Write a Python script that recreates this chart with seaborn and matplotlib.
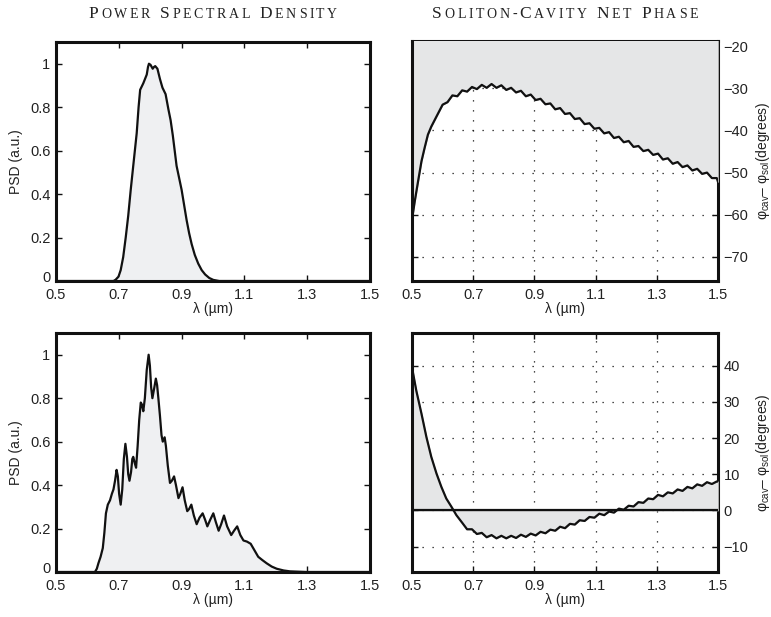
import numpy as np
import matplotlib
matplotlib.use("Agg")
import matplotlib.pyplot as plt
import matplotlib.transforms as mtransforms
import seaborn as sns
from matplotlib.offsetbox import TextArea, HPacker, AnchoredOffsetbox

# ---------------- data ----------------
titles = ["Power Spectral Density", "Soliton-Cavity Net Phase"]
x_label = "λ (µm)"
psd_label = "PSD (a.u.)"
phase_label = r"φ$_{\rm cav}$– φ$_{\rm sol}$(degrees)"
x_ticks = [0.5, 0.7, 0.9, 1.1, 1.3, 1.5]
x_tick_labels = ["0.5", "0.7", "0.9", "1.1", "1.3", "1.5"]
psd_ticks = [0, 0.2, 0.4, 0.6, 0.8, 1.0]
psd_tick_labels = ["0", "0.2", "0.4", "0.6", "0.8", "1"]
phase1_ticks = [-70, -60, -50, -40, -30, -20]
phase1_tick_labels = ["−70", "−60", "−50", "−40", "−30", "−20"]
phase2_ticks = [-10, 0, 10, 20, 30, 40]
phase2_tick_labels = ["−10", "0", "10", "20", "30", "40"]

# top-left: input spectrum
psd1_x = [0.5, 0.683, 0.690, 0.699, 0.706, 0.714, 0.722, 0.730, 0.738, 0.746, 0.757,
          0.763, 0.768, 0.778, 0.789, 0.793, 0.796, 0.801, 0.808, 0.812, 0.816,
          0.823, 0.831, 0.839, 0.849, 0.858, 0.865, 0.872, 0.884, 0.892,
          0.900, 0.908, 0.916, 0.924, 0.932, 0.942, 0.953, 0.964, 0.975, 0.988,
          1.001, 1.02, 1.5]
psd1_y = [0, 0, 0.006, 0.02, 0.05, 0.11, 0.20, 0.30, 0.42, 0.53, 0.68,
          0.80, 0.88, 0.91, 0.95, 0.985, 1.0, 0.995, 0.977, 0.985, 0.989,
          0.977, 0.93, 0.89, 0.86, 0.79, 0.74, 0.67, 0.53, 0.475,
          0.42, 0.35, 0.28, 0.22, 0.17, 0.12, 0.08, 0.05, 0.03, 0.014,
          0.005, 0, 0]

# bottom-left: output spectrum
psd2_x = [0.5, 0.624, 0.630, 0.635, 0.642, 0.649, 0.654, 0.659, 0.665, 0.672, 0.678,
          0.683, 0.688, 0.693, 0.697, 0.701, 0.706, 0.711, 0.716, 0.721, 0.726,
          0.730, 0.734, 0.739, 0.743, 0.746, 0.751, 0.755, 0.760, 0.765, 0.770,
          0.774, 0.778, 0.783, 0.789, 0.795, 0.799, 0.803, 0.807, 0.812, 0.818,
          0.822, 0.826, 0.831, 0.836, 0.840, 0.846, 0.850, 0.856, 0.863, 0.869,
          0.876, 0.882, 0.890, 0.896, 0.903, 0.910, 0.918, 0.924, 0.931, 0.939,
          0.948, 0.957, 0.967, 0.975, 0.982, 0.991, 1.001, 1.009, 1.018, 1.026,
          1.035, 1.045, 1.058, 1.067, 1.077, 1.087, 1.097, 1.108, 1.120, 1.132,
          1.144, 1.157, 1.171, 1.187, 1.203, 1.225, 1.245, 1.298, 1.5]
psd2_y = [0, 0, 0.015, 0.04, 0.07, 0.11, 0.18, 0.27, 0.31, 0.33, 0.36,
          0.38, 0.42, 0.47, 0.44, 0.36, 0.31, 0.38, 0.52, 0.59, 0.53,
          0.45, 0.42, 0.46, 0.52, 0.53, 0.50, 0.48, 0.58, 0.70, 0.78,
          0.77, 0.74, 0.80, 0.93, 1.0, 0.95, 0.85, 0.80, 0.84, 0.89,
          0.86, 0.80, 0.72, 0.63, 0.60, 0.62, 0.58, 0.49, 0.41, 0.42,
          0.44, 0.40, 0.34, 0.36, 0.39, 0.33, 0.28, 0.29, 0.31, 0.26,
          0.22, 0.25, 0.27, 0.24, 0.21, 0.24, 0.27, 0.23, 0.19, 0.22,
          0.26, 0.21, 0.17, 0.19, 0.21, 0.17, 0.145, 0.14, 0.13, 0.10,
          0.07, 0.055, 0.04, 0.025, 0.015, 0.007, 0.003, 0, 0]

# top-right: net phase (input)
ph1_x = [0.500, 0.509, 0.520, 0.531, 0.541, 0.552, 0.563, 0.580,
         0.600, 0.616, 0.632, 0.648, 0.664, 0.680, 0.696, 0.712, 0.728, 0.744,
         0.760, 0.776, 0.792, 0.808, 0.824, 0.840, 0.856, 0.872, 0.888, 0.904,
         0.920, 0.936, 0.952, 0.968, 0.984, 1.000, 1.016, 1.032, 1.048, 1.064,
         1.080, 1.096, 1.112, 1.128, 1.144, 1.160, 1.176, 1.192, 1.208, 1.224,
         1.240, 1.256, 1.272, 1.288, 1.304, 1.320, 1.336, 1.352, 1.368, 1.384,
         1.400, 1.416, 1.432, 1.448, 1.464, 1.480, 1.496, 1.500]
ph1_y = [-61.1, -56.8, -52.0, -47.3, -44.2, -41.0, -39.1, -36.7,
         -33.9, -33.3, -31.7, -31.9, -30.5, -30.8, -29.7, -30.2, -29.2, -29.9,
         -29.0, -29.9, -29.3, -30.4, -29.9, -31.0, -30.6, -31.9, -31.5, -32.8,
         -32.5, -33.8, -33.6, -35.0, -34.7, -36.1, -35.9, -37.3, -37.1, -38.5,
         -38.3, -39.6, -39.4, -40.7, -40.4, -41.8, -41.5, -42.8, -42.5, -43.9,
         -43.7, -44.9, -44.6, -45.8, -45.5, -46.9, -46.6, -47.9, -47.5, -48.7,
         -48.3, -49.5, -49.1, -50.3, -50.0, -51.3, -51.3, -52.2]

# bottom-right: net phase (output)
ph2_x = [0.500, 0.514, 0.531, 0.547, 0.563, 0.580, 0.596, 0.612, 0.629, 0.645,
         0.664, 0.680, 0.696, 0.712, 0.728, 0.744, 0.760, 0.776, 0.792, 0.808,
         0.824, 0.840, 0.856, 0.872, 0.888, 0.904, 0.920, 0.936, 0.952, 0.968,
         0.984, 1.000, 1.016, 1.032, 1.048, 1.064, 1.080, 1.096, 1.112, 1.128,
         1.144, 1.160, 1.176, 1.192, 1.208, 1.224, 1.240, 1.256, 1.272, 1.288,
         1.304, 1.320, 1.336, 1.352, 1.368, 1.384, 1.400, 1.416, 1.432, 1.448,
         1.464, 1.480, 1.496, 1.500]
ph2_y = [39.5, 33.1, 26.7, 20.3, 14.8, 10.2, 6.5, 3.3, 1.0, -1.3,
         -3.4, -5.2, -5.2, -6.5, -6.2, -7.4, -6.8, -7.7, -7.0, -7.7,
         -7.0, -7.6, -6.7, -7.3, -6.4, -6.9, -5.9, -6.3, -5.3, -5.6,
         -4.5, -4.9, -3.7, -3.9, -2.7, -2.9, -1.8, -2.0, -0.9, -1.3,
         -0.3, -0.6, 0.5, 0.2, 1.3, 1.1, 2.3, 2.1, 3.3, 3.1,
         4.3, 3.9, 5.0, 4.7, 5.8, 5.4, 6.5, 6.1, 7.2, 6.8,
         7.8, 7.3, 8.0, 8.0]

# ---------------- styling ----------------
sns.set_theme(style="white")
plt.rcParams["font.family"] = ["Liberation Sans", "DejaVu Sans"]
plt.rcParams["mathtext.fontset"] = "custom"
plt.rcParams["mathtext.rm"] = "Liberation Sans"
plt.rcParams["mathtext.it"] = "Liberation Sans:italic"

W, H = 771, 617
fig = plt.figure(figsize=(W / 100, H / 100), dpi=100)
fig.patch.set_facecolor("white")


def px_axes(left, top, right, bottom):
    return fig.add_axes([left / W, 1 - bottom / H, (right - left) / W, (bottom - top) / H])


ax_tl = px_axes(56, 42, 370, 281)
ax_tr = px_axes(412, 41, 718, 281)
ax_bl = px_axes(56, 333, 370, 572)
ax_br = px_axes(412, 333, 718, 572)

TICK_FS = 10.5
LABEL_FS = 10
LEFT_FILL = "#eff0f2"
RIGHT_FILL = "#e5e6e7"
LINE_KW = dict(color="#111111", linewidth=1.6, sort=False, estimator=None, zorder=3)


def frame(ax):
    ax.set_facecolor("white")
    for name, sp in ax.spines.items():
        sp.set_visible(True)
        sp.set_color("#111111")
        sp.set_linewidth(2.2)
    ax.tick_params(direction="in", length=4, width=1.0, color="#111111",
                   top=True, right=True, bottom=True, left=True,
                   labelsize=TICK_FS, labelcolor="#222222", pad=4)
    ax.tick_params(axis="x", pad=5)
    ax.set_xlim(0.5, 1.5)
    ax.set_xticks(x_ticks)
    ax.set_xticklabels(x_tick_labels)
    ax.set_xlabel(x_label, fontsize=LABEL_FS, labelpad=0, color="#222222")


def style_line(ax):
    for ln in ax.get_lines():
        ln.set_solid_joinstyle("round")
        ln.set_solid_capstyle("round")


def psd_panel(ax, xs, ys):
    frame(ax)
    ax.fill_between(xs, ys, 0, color=LEFT_FILL, linewidth=0, zorder=1)
    sns.lineplot(x=xs, y=ys, ax=ax, **LINE_KW)
    style_line(ax)
    ax.set_ylim(0, 1.1)
    ax.set_yticks(psd_ticks)
    ax.set_yticklabels(psd_tick_labels)
    ax.set_ylabel(psd_label, fontsize=LABEL_FS, labelpad=5, color="#222222")
    # lift the "0" label a little so it sits just above the "0.5" x label
    lab0 = ax.get_yticklabels()[0]
    lab0.set_transform(lab0.get_transform() +
                       mtransforms.ScaledTranslation(0, 3 / 72, fig.dpi_scale_trans))


def phase_panel(ax, xs, ys, ylim, ticks, tick_labels, zero_line):
    frame(ax)
    ax.set_axisbelow(True)
    ax.grid(True, color="#111111", linestyle=(0, (1, 7)), linewidth=0.9)
    ax.fill_between(xs, ys, 0, color=RIGHT_FILL, edgecolor="#b0b0b0",
                    linewidth=0.6, zorder=2.6)
    sns.lineplot(x=xs, y=ys, ax=ax, **LINE_KW)
    if zero_line:
        ax.axhline(0, color="#111111", linewidth=1.6, zorder=3)
    style_line(ax)
    ax.set_ylim(*ylim)
    ax.set_yticks(ticks)
    ax.set_yticklabels(tick_labels)
    ax.yaxis.tick_right()
    ax.tick_params(axis="y", left=True, right=True, labelleft=False, labelright=True)
    ax.yaxis.set_label_position("right")
    ax.set_ylabel(phase_label, fontsize=LABEL_FS, labelpad=4, color="#222222")
    ax.spines["left"].set_zorder(4)
    ax.spines["bottom"].set_zorder(4)


psd_panel(ax_tl, psd1_x, psd1_y)
psd_panel(ax_bl, psd2_x, psd2_y)
phase_panel(ax_tr, ph1_x, ph1_y, (-75.7, -18.8), phase1_ticks, phase1_tick_labels, False)
phase_panel(ax_br, ph2_x, ph2_y, (-17, 49), phase2_ticks, phase2_tick_labels, True)


def smallcaps_title(ax, text, cx, cy, big=12.5, small=10, track=1.9):
    children = []
    for i, word in enumerate(text.split(" ")):
        if i:
            children.append(TextArea(" ", textprops=dict(size=big, family="Liberation Serif",
                                                         color="#222222")))
        for ch in word:
            size = big if ch.isupper() else small
            children.append(TextArea(ch.upper(), textprops=dict(size=size, family="Liberation Serif",
                                                                 color="#222222")))
    box = HPacker(children=children, align="baseline", pad=0, sep=track)
    anch = AnchoredOffsetbox(loc="center", child=box, pad=0, borderpad=0, frameon=False,
                             bbox_to_anchor=(cx / W, 1 - cy / H),
                             bbox_transform=fig.transFigure)
    anch.set_clip_on(False)
    ax.add_artist(anch)


smallcaps_title(ax_tl, titles[0], 213, 14)
smallcaps_title(ax_tr, titles[1], 565, 14)

fig.savefig("out.png", dpi=100, facecolor="white")
